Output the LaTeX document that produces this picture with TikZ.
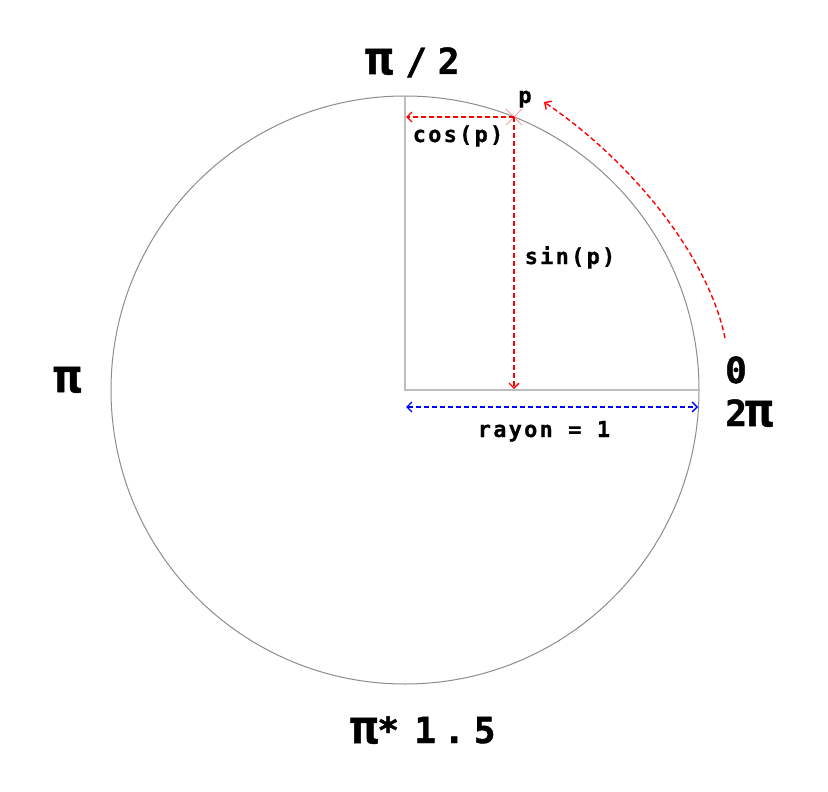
\documentclass[tikz,border=0pt]{standalone}
\usepackage{fontspec}
\usepackage{graphicx}
\usetikzlibrary{arrows.meta}
\setmonofont{DejaVu Sans Mono}
\newfontfamily\bigfont{DejaVu Sans Mono}[BoldFeatures={FakeBold=1.2}]
\newfontfamily\smallfont{DejaVu Sans Mono}[LetterSpace=10,BoldFeatures={FakeBold=0.6}]
\newcommand{\bpi}{\scalebox{1.28}{π}}
\newcommand{\gc}[1]{\makebox[0pt]{#1}}
\definecolor{circgray}{HTML}{8C8C8C}
\definecolor{linegray}{HTML}{BDBDBD}
\definecolor{crosspink}{HTML}{F4A3A3}
\tikzset{
  big/.style={font=\bigfont\bfseries\fontsize{36}{40}\selectfont, anchor=base, inner sep=0pt},
  small/.style={font=\smallfont\bfseries\fontsize{22}{26}\selectfont, anchor=base, inner sep=0pt},
  redarrow/.style={draw=red, line width=1.4pt, dash pattern=on 5pt off 3pt, -{Straight Barb[length=5pt,width=10pt]}},
  bluearrow/.style={draw=blue, line width=1.4pt, dash pattern=on 5pt off 3pt, {Straight Barb[length=5pt,width=10pt]}-{Straight Barb[length=5pt,width=10pt]}},
  guide/.style={draw=linegray, line width=1.6pt},
}
\begin{document}
\begin{tikzpicture}[x=1pt,y=-1pt]
\path[use as bounding box] (0,0) rectangle (828,792);
\coordinate (O) at (405,390);
\coordinate (T) at (405,97);
\coordinate (R) at (699,390);
\coordinate (P) at (514,117);
\coordinate (Cx) at (406,117);
\coordinate (Sx) at (514,389);
\coordinate (B1) at (406,407);
\coordinate (B2) at (698,407);
\coordinate (A1) at (725,338);
\coordinate (A2) at (544,102);
% circle
\draw[circgray, line width=1pt] (O) circle[radius=294];
% guides
\draw[guide] (T) -- (O) -- (R);
% cross at p
\draw[crosspink, line width=1pt] ([shift={(-8,-8)}]P) -- ([shift={(8,8)}]P);
\draw[crosspink, line width=1pt] ([shift={(-8,8)}]P) -- ([shift={(8,-8)}]P);
% arrows
\draw[redarrow] (P) -- (Cx);
\draw[redarrow] (P) -- (Sx);
\draw[bluearrow] (B1) -- (B2);
\draw[redarrow] (A1) .. controls (708,255) and (630,160) .. (A2);
% labels
\node[big, anchor=base west] (lhalf) at (379,74) {\gc{\bpi}\kern37pt\gc{/}\kern32.5pt\gc{2}};
\node[big] (lpi) at (67.5,392) {\bpi};
\node[big] (lzero) at (736,383) {0};
\node[big, anchor=base west] (ltwopi) at (736,426) {\gc{2}\kern23pt\gc{\bpi}};
\node[big, anchor=base west] (lthree) at (364,743) {\gc{\bpi}\kern24pt\gc{*}\kern37pt\gc{1}\kern29pt\gc{.}\kern30.5pt\gc{5}};
\node[small] (lp) at (525,103) {p};
\node[small] (lcos) at (458,142) {cos(p)};
\node[small] (lsin) at (570,264) {sin(p)};
\node[small] (lray) at (544,437) {rayon = 1};
\end{tikzpicture}
\end{document}
